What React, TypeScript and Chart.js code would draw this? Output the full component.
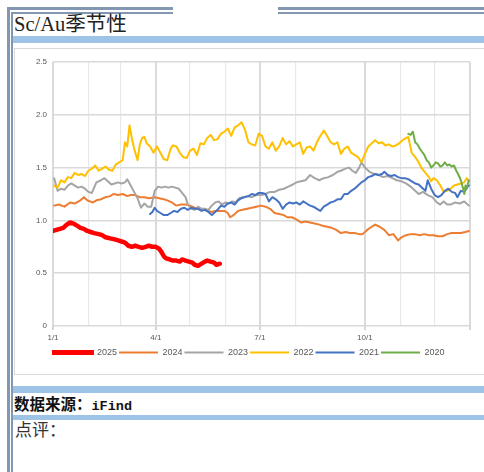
import React, { useEffect, useRef } from 'react';
import { Chart, registerables } from 'chart.js';

Chart.register(...registerables);

const seriesNames = ['2025', '2024', '2023', '2022', '2021', '2020'];
const seriesColors = ['#FF0000', '#ED7D31', '#A5A5A5', '#FFC000', '#4472C4', '#70AD47'];
const seriesWidths = [4.5, 2, 2, 2, 2, 2];

const monthStartDays = [0, 31, 59, 90, 120, 151, 181, 212, 273, 304, 334, 365];
const quarterDays = [0, 90, 181, 273, 365];
const axisLabelDays = [0, 90, 181, 273];
const axisLabels = ['1/1', '4/1', '7/1', '10/1'];

const s2025: [number, number][] = [
  [0, 0.90], [3, 0.91], [6, 0.92], [9, 0.93], [12, 0.96], [15, 0.98], [18, 0.97], [21, 0.95], [24, 0.93], [27, 0.92],
  [30, 0.90], [33, 0.89], [36, 0.88], [40, 0.87], [43, 0.86], [46, 0.84], [50, 0.83], [54, 0.82], [57, 0.81], [60, 0.80],
  [63, 0.79], [66, 0.76], [69, 0.75], [72, 0.76], [75, 0.75], [78, 0.74], [81, 0.75], [84, 0.76], [87, 0.75], [90, 0.75],
  [93, 0.73], [95, 0.70], [97, 0.66], [99, 0.64], [102, 0.63], [105, 0.62], [108, 0.62], [111, 0.61], [113, 0.63], [116, 0.62],
  [119, 0.61], [122, 0.60], [124, 0.58], [127, 0.57], [130, 0.59], [133, 0.61], [135, 0.62], [138, 0.61], [141, 0.60], [143, 0.58], [146, 0.59],
];

const s2024: [number, number][] = [
  [1, 1.14], [5, 1.15], [10, 1.13], [15, 1.17], [19, 1.16], [24, 1.19], [27, 1.22], [30, 1.19], [35, 1.17], [38, 1.19],
  [42, 1.20], [46, 1.22], [50, 1.23], [53, 1.25], [57, 1.24], [61, 1.25], [65, 1.23], [68, 1.24], [72, 1.24], [76, 1.22],
  [80, 1.22], [84, 1.21], [89, 1.22], [93, 1.21], [97, 1.20], [100, 1.19], [104, 1.17], [108, 1.14], [112, 1.15], [116, 1.15],
  [120, 1.14], [124, 1.12], [128, 1.11], [132, 1.10], [136, 1.09], [139, 1.08], [142, 1.09], [146, 1.09], [150, 1.09], [153, 1.07],
  [155, 1.03], [158, 1.05], [162, 1.09], [166, 1.10], [170, 1.11], [174, 1.12], [178, 1.13], [182, 1.14], [186, 1.13], [190, 1.11],
  [194, 1.07], [198, 1.06], [202, 1.05], [205, 1.03], [209, 1.03], [213, 1.01], [217, 0.98], [221, 0.99], [225, 0.98], [229, 0.97],
  [233, 0.96], [236, 0.95], [240, 0.94], [244, 0.93], [248, 0.91], [252, 0.88], [256, 0.89], [260, 0.88], [264, 0.88], [268, 0.87],
  [271, 0.87], [275, 0.91], [279, 0.94], [282, 0.96], [286, 0.94], [290, 0.91], [294, 0.86], [298, 0.87], [302, 0.81], [305, 0.84],
  [309, 0.86], [313, 0.87], [317, 0.87], [321, 0.86], [325, 0.87], [329, 0.86], [333, 0.86], [337, 0.85], [341, 0.85], [345, 0.87],
  [349, 0.88], [353, 0.88], [357, 0.88], [361, 0.89], [364, 0.90],
];

const s2023: [number, number][] = [
  [1, 1.40], [4, 1.28], [7, 1.30], [10, 1.29], [13, 1.33], [16, 1.35], [19, 1.33], [22, 1.31], [25, 1.32], [28, 1.30],
  [31, 1.27], [34, 1.26], [38, 1.36], [42, 1.38], [45, 1.40], [48, 1.37], [51, 1.34], [54, 1.35], [57, 1.36], [60, 1.35],
  [63, 1.36], [65, 1.39], [68, 1.33], [71, 1.27], [74, 1.21], [77, 1.12], [80, 1.16], [83, 1.13], [86, 1.13], [89, 1.28],
  [92, 1.32], [95, 1.31], [98, 1.32], [101, 1.31], [104, 1.32], [107, 1.31], [110, 1.30], [113, 1.26], [116, 1.22], [118, 1.15],
  [121, 1.11], [124, 1.10], [127, 1.13], [130, 1.11], [133, 1.11], [136, 1.10], [139, 1.14], [142, 1.17], [145, 1.18], [148, 1.15],
  [151, 1.17], [154, 1.16], [157, 1.18], [160, 1.17], [163, 1.21], [166, 1.22], [170, 1.23], [174, 1.22], [178, 1.24], [182, 1.24],
  [186, 1.25], [190, 1.27], [194, 1.27], [198, 1.29], [202, 1.30], [206, 1.32], [210, 1.34], [213, 1.36], [217, 1.37], [221, 1.38],
  [225, 1.43], [229, 1.40], [233, 1.38], [237, 1.40], [241, 1.41], [245, 1.43], [249, 1.46], [252, 1.47], [256, 1.49], [259, 1.50],
  [262, 1.47], [265, 1.45], [268, 1.50], [270, 1.55], [273, 1.50], [277, 1.46], [281, 1.44], [285, 1.43], [289, 1.41], [293, 1.42],
  [297, 1.40], [301, 1.38], [305, 1.37], [309, 1.35], [313, 1.32], [317, 1.28], [320, 1.25], [324, 1.27], [328, 1.24], [332, 1.22],
  [336, 1.17], [339, 1.15], [342, 1.18], [345, 1.15], [348, 1.15], [352, 1.17], [356, 1.16], [360, 1.18], [364, 1.14],
];

const s2022: [number, number][] = [
  [1, 1.33], [4, 1.31], [7, 1.38], [10, 1.36], [13, 1.41], [16, 1.40], [19, 1.45], [22, 1.43], [25, 1.44], [28, 1.42],
  [31, 1.47], [34, 1.49], [37, 1.52], [40, 1.47], [43, 1.49], [46, 1.51], [49, 1.48], [52, 1.47], [55, 1.53], [58, 1.55],
  [61, 1.57], [63, 1.74], [65, 1.70], [67, 1.90], [69, 1.78], [71, 1.68], [74, 1.57], [76, 1.72], [78, 1.78], [80, 1.79],
  [82, 1.73], [85, 1.70], [88, 1.64], [91, 1.70], [94, 1.64], [97, 1.58], [100, 1.57], [103, 1.68], [105, 1.71], [108, 1.70],
  [111, 1.64], [114, 1.60], [117, 1.59], [120, 1.66], [123, 1.68], [126, 1.62], [129, 1.73], [132, 1.72], [135, 1.78], [138, 1.81],
  [141, 1.76], [144, 1.77], [147, 1.82], [150, 1.84], [153, 1.87], [156, 1.80], [159, 1.88], [162, 1.90], [165, 1.93], [168, 1.86],
  [171, 1.74], [174, 1.72], [177, 1.71], [180, 1.82], [183, 1.80], [186, 1.70], [189, 1.68], [192, 1.74], [195, 1.66], [198, 1.70],
  [201, 1.78], [204, 1.72], [207, 1.75], [210, 1.70], [213, 1.72], [216, 1.74], [219, 1.63], [222, 1.69], [225, 1.70], [228, 1.66],
  [231, 1.74], [234, 1.80], [237, 1.85], [240, 1.80], [243, 1.74], [246, 1.72], [249, 1.74], [252, 1.63], [255, 1.68], [258, 1.70],
  [261, 1.64], [264, 1.62], [267, 1.60], [270, 1.55], [273, 1.63], [276, 1.70], [279, 1.73], [282, 1.76], [285, 1.73], [288, 1.74],
  [291, 1.71], [294, 1.72], [297, 1.70], [300, 1.71], [303, 1.73], [306, 1.76], [309, 1.78], [311, 1.79], [314, 1.64], [317, 1.60],
  [320, 1.55], [323, 1.49], [326, 1.45], [329, 1.41], [331, 1.37], [333, 1.40], [336, 1.38], [339, 1.33], [342, 1.27], [345, 1.28],
  [348, 1.30], [351, 1.33], [354, 1.34], [357, 1.35], [360, 1.36], [362, 1.40], [364, 1.37],
];

const s2021: [number, number][] = [
  [85, 1.06], [87, 1.08], [89, 1.12], [91, 1.09], [94, 1.07], [97, 1.05], [100, 1.05], [103, 1.07], [106, 1.09], [109, 1.08],
  [112, 1.11], [115, 1.12], [118, 1.10], [121, 1.12], [124, 1.11], [127, 1.11], [130, 1.09], [133, 1.10], [136, 1.08], [139, 1.05],
  [141, 1.07], [144, 1.10], [147, 1.14], [150, 1.13], [153, 1.16], [156, 1.17], [159, 1.15], [162, 1.19], [165, 1.21], [168, 1.22],
  [171, 1.23], [174, 1.25], [177, 1.24], [180, 1.26], [183, 1.26], [186, 1.25], [189, 1.18], [192, 1.22], [195, 1.20], [198, 1.17],
  [201, 1.11], [204, 1.15], [207, 1.17], [210, 1.16], [213, 1.17], [216, 1.15], [219, 1.18], [222, 1.16], [225, 1.14], [228, 1.13],
  [231, 1.11], [234, 1.09], [237, 1.13], [240, 1.15], [243, 1.17], [246, 1.18], [249, 1.20], [252, 1.20], [255, 1.25], [258, 1.25],
  [261, 1.28], [264, 1.30], [267, 1.33], [270, 1.36], [273, 1.38], [276, 1.41], [279, 1.42], [282, 1.44], [285, 1.43], [288, 1.44],
  [290, 1.46], [293, 1.43], [296, 1.42], [299, 1.43], [302, 1.41], [305, 1.40], [308, 1.40], [311, 1.39], [314, 1.37], [317, 1.35],
  [320, 1.34], [323, 1.31], [326, 1.28], [328, 1.38], [331, 1.30], [334, 1.24], [337, 1.22], [340, 1.24], [343, 1.28], [346, 1.30],
  [349, 1.27], [352, 1.26], [354, 1.22], [357, 1.28], [360, 1.27], [363, 1.32], [364, 1.33],
];

const s2020: [number, number][] = [
  [311, 1.82], [313, 1.81], [315, 1.84], [317, 1.74], [319, 1.72], [321, 1.68], [323, 1.65], [325, 1.62], [327, 1.57], [329, 1.55],
  [331, 1.50], [333, 1.52], [335, 1.55], [337, 1.54], [339, 1.51], [341, 1.52], [343, 1.55], [345, 1.52], [347, 1.53], [349, 1.51],
  [351, 1.52], [353, 1.47], [355, 1.43], [357, 1.38], [359, 1.30], [360, 1.25], [361, 1.33], [362, 1.30], [364, 1.38],
];

const seriesData = [s2025, s2024, s2023, s2022, s2021, s2020];

const BORDER = '#8497B0';
const BAND = '#9DC3E6';

function SeasonChart() {
  const ref = useRef<HTMLCanvasElement | null>(null);
  useEffect(() => {
    if (!ref.current) return;
    const chart = new Chart(ref.current, {
      type: 'line',
      data: {
        datasets: seriesNames.map((name, i) => ({
          label: name,
          data: seriesData[i].map(([x, y]) => ({ x, y })),
          borderColor: seriesColors[i],
          backgroundColor: seriesColors[i],
          borderWidth: seriesWidths[i],
          pointRadius: 0,
          tension: 0,
          borderJoinStyle: 'round' as const,
          borderCapStyle: 'round' as const,
          fill: false,
          order: -i,
        })),
      },
      options: {
        animation: false,
        responsive: false,
        maintainAspectRatio: false,
        layout: { padding: { left: 13, right: 14, top: 13, bottom: 8 } },
        plugins: {
          tooltip: { enabled: false },
          legend: {
            position: 'bottom',
            labels: {
              boxWidth: 39,
              boxHeight: 2,
              padding: 2,
              color: '#595959',
              font: { family: '"Liberation Sans", Arial, sans-serif', size: 9 },
              generateLabels: () =>
                seriesNames.map((n, i) => ({
                  text: n,
                  fillStyle: seriesColors[i],
                  strokeStyle: seriesColors[i],
                  lineWidth: i === 0 ? 3 : 0,
                  fontColor: '#595959',
                  hidden: false,
                  datasetIndex: i,
                })),
            },
          },
        },
        scales: {
          x: {
            type: 'linear',
            min: 0,
            max: 365,
            afterBuildTicks: (scale: any) => {
              scale.ticks = monthStartDays.map((v) => ({ value: v }));
            },
            afterFit: (scale: any) => {
              scale.height = 20;
            },
            border: { display: false },
            grid: {
              drawTicks: true,
              tickLength: 4,
              color: (ctx: any) => (quarterDays.includes(ctx.tick?.value) ? '#dadada' : '#e8e8e8'),
              lineWidth: (ctx: any) => (quarterDays.includes(ctx.tick?.value) ? 2 : 1.2),
              tickColor: (ctx: any) => (quarterDays.includes(ctx.tick?.value) ? '#d6d6d6' : 'rgba(0,0,0,0)'),
              tickWidth: 2,
            },
            ticks: {
              autoSkip: false,
              maxRotation: 0,
              padding: 3,
              color: '#595959',
              font: { family: '"Liberation Sans", Arial, sans-serif', size: 8 },
              callback: (v: any) => {
                const k = axisLabelDays.indexOf(Number(v));
                return k >= 0 ? axisLabels[k] : '';
              },
            },
          },
          y: {
            min: 0,
            max: 2.5,
            afterFit: (scale: any) => {
              scale.width = 25;
            },
            border: { display: false },
            grid: { drawTicks: false, color: '#d9d9d9', lineWidth: 1.5 },
            ticks: {
              stepSize: 0.5,
              padding: 6,
              color: '#595959',
              font: { family: '"Liberation Sans", Arial, sans-serif', size: 8 },
            },
          },
        },
      },
    } as any);
    return () => chart.destroy();
  }, []);
  return (
    <canvas
      ref={ref}
      width={469}
      height={326}
      style={{ position: 'absolute', left: 15, top: 49, width: 469, height: 326, display: 'block' }}
    />
  );
}

export default function App() {
  const abs = (s: React.CSSProperties): React.CSSProperties => ({ position: 'absolute', ...s });
  return (
    <div style={{ position: 'fixed', left: 0, top: 0, width: 484, height: 472, overflow: 'hidden', background: '#fff' }}>
      {/* top double lines */}
      <div style={abs({ left: 7, top: 7, width: 166, height: 3, background: BORDER })} />
      <div style={abs({ left: 11, top: 12, width: 162, height: 2, background: BORDER })} />
      <div style={abs({ left: 278, top: 7, width: 206, height: 3, background: BORDER })} />
      <div style={abs({ left: 278, top: 12, width: 206, height: 2, background: BORDER })} />
      {/* left double lines */}
      <div style={abs({ left: 7, top: 7, width: 3, height: 465, background: BORDER })} />
      <div style={abs({ left: 11, top: 12, width: 2, height: 460, background: BORDER })} />
      {/* title */}
      <div
        style={abs({
          left: 14,
          top: 13,
          fontFamily: '"Liberation Serif", "Noto Sans CJK SC", serif',
          fontSize: 20.5,
          lineHeight: '22px',
          color: '#222',
          whiteSpace: 'nowrap',
        })}
      >
        Sc/Au季节性
      </div>
      <div style={abs({ left: 13, top: 36, width: 471, height: 7, background: BAND })} />
      {/* chart frame */}
      <div style={abs({ left: 14, top: 48, width: 480, height: 325, border: '1px solid #d9d9d9' })} />
      <SeasonChart />
      <div style={abs({ left: 13, top: 386, width: 471, height: 7, background: BAND })} />
      <div
        style={abs({
          left: 14,
          top: 396,
          fontFamily: '"Liberation Serif", "Noto Sans CJK SC", serif',
          fontSize: 15.5,
          fontWeight: 'bold',
          lineHeight: '18px',
          color: '#111',
          whiteSpace: 'nowrap',
        })}
      >
        数据来源：<span style={{ fontFamily: '"Liberation Mono", monospace', fontSize: 13.5 }}>iFind</span>
      </div>
      <div style={abs({ left: 13, top: 415, width: 471, height: 5, background: BAND })} />
      <div
        style={abs({
          left: 15,
          top: 421,
          fontFamily: '"Liberation Serif", "Noto Sans CJK SC", serif',
          fontSize: 17,
          lineHeight: '20px',
          color: '#333',
          whiteSpace: 'nowrap',
        })}
      >
        点评：
      </div>
    </div>
  );
}
